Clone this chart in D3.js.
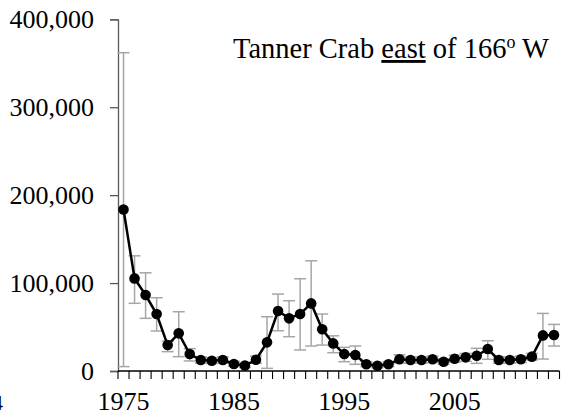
<!DOCTYPE html>
<html><head><meta charset="utf-8">
<script src="https://cdn.jsdelivr.net/npm/d3@7"></script>
<style>body{margin:0;background:#fff}svg{display:block}</style>
</head><body>
<script>
const years = d3.range(1975, 2015);
const values = [183.7,105.3,86.4,64.8,29.5,42.8,19.3,12.5,11.7,12.5,8.0,6.2,12.8,32.6,68.2,59.9,64.8,76.9,47.4,31.4,19.3,18.2,7.6,6.0,7.6,13.3,12.5,12.5,13.3,10.6,14.0,15.5,17.4,25.0,12.5,12.5,13.3,16.3,40.5,40.9].map(v=>v*1000);
const upper = [362,131,111.7,83.3,34,67.4,25.4,16,15,16,11,9,17,61.7,87.5,79.9,104.9,125.3,64.8,40,26.9,28.4,10.5,8.5,10.5,18.5,16,16,17,14,18,20,25.8,34.4,16,16,17,20,65.5,53].map(v=>v*1000);
const lower = [5,77,59.9,45.5,22,16.3,11.4,9,8.5,9,5.5,4,9,3,45.8,39,23.9,28.4,29.5,20.8,10.6,7.6,5,3.5,5,9,9,9,9.5,7.5,10,11,8.7,13.3,9,9,9.5,12.5,13.6,28.4].map(v=>v*1000);
const yTicks = [0,100000,200000,300000,400000];
const xLabelYears = [1975,1985,1995,2005];

const W=571,H=417;
const svg=d3.select("body").append("svg").attr("width",W).attr("height",H);
const font="'Liberation Serif','Times New Roman',serif";

const x=d3.scaleBand().domain(years).range([118,559.5]);
const y=d3.scaleLinear().domain([0,400000]).range([371,19.3]);
const cx=d=>x(d)+x.bandwidth()/2;

// clipped remnants at left edge (also cut off in the reference)
svg.append("text").attr("x",-12).attr("y",45).attr("font-family",font).attr("font-size",20).text("0");
svg.append("text").attr("x",-8).attr("y",410).attr("font-family",font).attr("font-size",22).text("4");

// Y axis
const yAxis=d3.axisLeft(y).tickValues(yTicks).tickSize(8).tickPadding(16).tickFormat(d3.format(","));
const gy=svg.append("g").attr("transform","translate(118,0)").call(yAxis);
gy.select(".domain").attr("stroke","#595959").attr("stroke-width",1.3);
gy.selectAll(".tick line").attr("stroke","#595959").attr("stroke-width",1.3);
gy.selectAll(".tick text").attr("font-family",font).attr("font-size",26).attr("fill","#000");

// X axis
const gx=svg.append("g").attr("transform","translate(0,371)");
gx.append("line").attr("x1",118).attr("x2",559.5).attr("stroke","#000").attr("stroke-width",1.3);
const bounds=years.map(d=>x(d)).concat([x(years[years.length-1])+x.bandwidth()]);
gx.selectAll("line.t").data(bounds).join("line").attr("class","t")
  .attr("x1",d=>d).attr("x2",d=>d).attr("y1",0).attr("y2",8).attr("stroke","#000").attr("stroke-width",1.1);
gx.selectAll("text").data(xLabelYears).join("text")
  .attr("x",d=>cx(d)).attr("y",39).attr("text-anchor","middle")
  .attr("font-family",font).attr("font-size",26).text(d=>d);

// error bars
const data=years.map((yr,i)=>({yr,v:values[i],hi:upper[i],lo:lower[i]}));
const eb=svg.append("g").attr("stroke","#a6a6a6").attr("stroke-width",1.5);
eb.selectAll("line.v").data(data).join("line").attr("class","v")
  .attr("x1",d=>cx(d.yr)).attr("x2",d=>cx(d.yr)).attr("y1",d=>y(d.hi)).attr("y2",d=>y(d.lo));
eb.selectAll("line.h").data(data).join("line").attr("class","h")
  .attr("x1",d=>cx(d.yr)-6).attr("x2",d=>cx(d.yr)+6).attr("y1",d=>y(d.hi)).attr("y2",d=>y(d.hi));
eb.selectAll("line.l").data(data).join("line").attr("class","l")
  .attr("x1",d=>cx(d.yr)-6).attr("x2",d=>cx(d.yr)+6).attr("y1",d=>y(d.lo)).attr("y2",d=>y(d.lo));

// line & markers
svg.append("path").datum(data).attr("fill","none").attr("stroke","#000").attr("stroke-width",2.5)
  .attr("d",d3.line().x(d=>cx(d.yr)).y(d=>y(d.v)));
svg.selectAll("circle").data(data).join("circle")
  .attr("cx",d=>cx(d.yr)).attr("cy",d=>y(d.v)).attr("r",5.3).attr("fill","#000");

// title
const t=svg.append("text").attr("x",233).attr("y",58).attr("font-family",font).attr("font-size",28.5).attr("fill","#000");
t.append("tspan").text("Tanner Crab ");
t.append("tspan").attr("text-decoration","underline").text("east");
t.append("tspan").text(" of 166");
t.append("tspan").attr("dy",-10).attr("font-size",18).text("o");
t.append("tspan").attr("dy",10).text(" W");
</script>
</body></html>
